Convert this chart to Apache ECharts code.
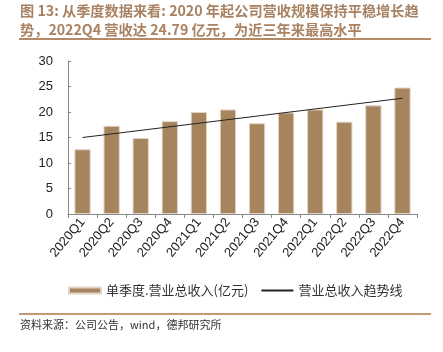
<!DOCTYPE html>
<html>
<head>
<meta charset="utf-8">
<script src="https://cdn.jsdelivr.net/npm/echarts@6/dist/echarts.min.js"></script>
<style>
  html, body { margin: 0; padding: 0; background: #fff; }
  #chart { width: 443px; height: 352px; }
</style>
</head>
<body>
<div id="chart"></div>
<script>
// quarters shown on the x axis
const quarters = ['2020Q1', '2020Q2', '2020Q3', '2020Q4', '2021Q1', '2021Q2',
  '2021Q3', '2021Q4', '2022Q1', '2022Q2', '2022Q3', '2022Q4'];
// single-quarter revenue, 100m yuan
const revenue = [12.7, 17.3, 14.9, 18.2, 20.0, 20.5, 17.8, 19.9, 20.5, 18.1, 21.3, 24.79];
// trend line: only its two ends are drawn
const trend = [15.0, null, null, null, null, null, null, null, null, null, null, 22.7];
const yTicks = [0, 5, 10, 15, 20, 25, 30];

const barName = '单季度.营业总收入(亿元)';
const lineName = '营业总收入趋势线';
const cjk = '"Noto Sans CJK SC", "Liberation Sans", sans-serif';

const chart = echarts.init(document.getElementById('chart'));

const option = {
  animation: false,
  backgroundColor: '#fff',
  textStyle: { fontFamily: cjk },
  graphic: [
    {
      type: 'text', left: 20, top: 1,
      style: {
        text: '图 13: 从季度数据来看: 2020 年起公司营收规模保持平稳增长趋\n势，2022Q4 营收达 24.79 亿元，为近三年来最高水平',
        fill: '#a88262', font: 'bold 14.2px ' + cjk, lineHeight: 19
      }
    },
    { type: 'rect', shape: { x: 19, y: 38, width: 412, height: 2 }, style: { fill: '#b48a66' } },
    { type: 'rect', shape: { x: 19, y: 313, width: 412, height: 2 }, style: { fill: '#c49a76' } },
    {
      type: 'text', left: 20, top: 319,
      style: { text: '资料来源：公司公告，wind，德邦研究所', fill: '#333', font: '11px ' + cjk }
    }
  ],
  grid: { left: 68, right: 26, top: 61, bottom: 138 },
  legend: {
    left: 63, top: 279,
    itemWidth: 32, itemHeight: 6, itemGap: 12,
    textStyle: { fontSize: 13, color: '#333', fontFamily: cjk },
    data: [
      { name: barName, icon: 'rect' },
      { name: lineName, itemStyle: { opacity: 0 } }
    ]
  },
  xAxis: {
    type: 'category',
    data: quarters,
    axisLine: { lineStyle: { color: '#888', width: 1 } },
    axisTick: { show: true, alignWithLabel: false, length: 4, lineStyle: { color: '#888' } },
    axisLabel: {
      rotate: 50, fontSize: 13, color: '#222', margin: 6,
      fontFamily: '"Liberation Sans", Arial, sans-serif'
    }
  },
  yAxis: {
    type: 'value',
    min: yTicks[0], max: yTicks[yTicks.length - 1], interval: 5,
    splitLine: { show: false },
    axisLine: { show: true, lineStyle: { color: '#888', width: 1 } },
    axisTick: { show: true, inside: true, length: 3, lineStyle: { color: '#888' } },
    axisLabel: {
      fontSize: 13, color: '#222', margin: 15,
      fontFamily: '"Liberation Sans", Arial, sans-serif'
    }
  },
  series: [
    {
      name: barName,
      type: 'bar',
      data: revenue,
      barWidth: '56%',
      itemStyle: { color: '#a6845e', borderColor: '#e2d4c4', borderWidth: 1 }
    },
    {
      name: lineName,
      type: 'line',
      data: trend,
      connectNulls: true,
      symbol: 'none',
      lineStyle: { color: '#222', width: 1 },
      itemStyle: { color: '#222' }
    }
  ]
};

chart.setOption(option);
</script>
</body>
</html>
